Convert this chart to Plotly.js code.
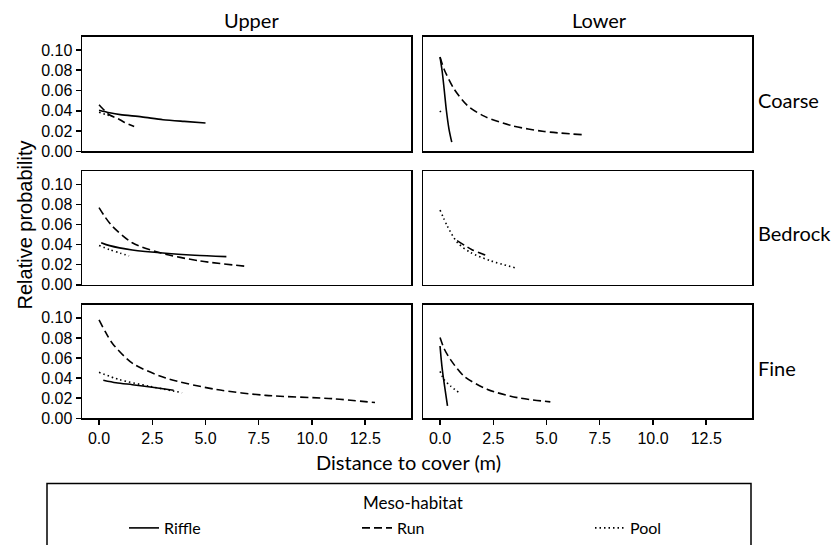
<!DOCTYPE html>
<html>
<head>
<meta charset="utf-8">
<script src="https://cdn.plot.ly/plotly-3.0.1.min.js"></script>
<style>html,body{margin:0;padding:0;background:#fff;}#chart{width:838px;height:545px;}</style>
</head>
<body>
<div id="chart"></div>
<script>
// ---- categories ----
const sections = ["Upper", "Lower"];
const substrates = ["Coarse", "Bedrock", "Fine"];
const habitats = ["Riffle", "Run", "Pool"];
const xTickVals = [0, 2.5, 5, 7.5, 10, 12.5];
const xTickText = ["0.0", "2.5", "5.0", "7.5", "10.0", "12.5"];
const yTickVals = [0, 0.02, 0.04, 0.06, 0.08, 0.10];
const yTickText = ["0.00", "0.02", "0.04", "0.06", "0.08", "0.10"];

// ---- Upper / Coarse ----
const upperCoarseRiffleX = [0, 0.5, 1.0, 2.0, 3.0, 4.0, 5.0];
const upperCoarseRiffleY = [0.0405, 0.0380, 0.0362, 0.0340, 0.0312, 0.0295, 0.0280];
const upperCoarseRunX = [0, 0.25, 0.5, 0.9, 1.2, 1.65];
const upperCoarseRunY = [0.046, 0.0405, 0.0358, 0.0322, 0.0285, 0.0245];
const upperCoarsePoolX = [0, 0.3, 0.6];
const upperCoarsePoolY = [0.0385, 0.0365, 0.0345];

// ---- Lower / Coarse ----
const lowerCoarseRiffleX = [0, 0.1, 0.2, 0.3, 0.42, 0.55];
const lowerCoarseRiffleY = [0.093, 0.079, 0.060, 0.040, 0.022, 0.009];
const lowerCoarseRunX = [0, 0.19, 0.66, 1.29, 2.07, 3.33, 4.89, 6.67];
const lowerCoarseRunY = [0.093, 0.081, 0.0615, 0.0451, 0.0347, 0.0255, 0.0196, 0.0164];
const lowerCoarsePoolX = [0, 0.1];
const lowerCoarsePoolY = [0.040, 0.036];

// ---- Upper / Bedrock ----
const upperBedrockRiffleX = [0.1, 0.5, 1.56, 3.13, 4.5, 5.98];
const upperBedrockRiffleY = [0.042, 0.039, 0.0347, 0.0314, 0.0295, 0.0281];
const upperBedrockRunX = [0, 0.3, 0.63, 1.56, 2.82, 4.69, 6.96];
const upperBedrockRunY = [0.0769, 0.067, 0.0582, 0.0419, 0.0321, 0.0239, 0.0183];
const upperBedrockPoolX = [0, 0.5, 1.0, 1.41];
const upperBedrockPoolY = [0.0392, 0.035, 0.0315, 0.0288];

// ---- Lower / Bedrock ----
const lowerBedrockRunX = [0.8, 1.5, 2.2];
const lowerBedrockRunY = [0.044, 0.035, 0.029];
const lowerBedrockPoolX = [0, 0.35, 0.82, 1.44, 2.38, 3.58];
const lowerBedrockPoolY = [0.0745, 0.0582, 0.0419, 0.0321, 0.0239, 0.0167];

// ---- Upper / Fine ----
const upperFineRiffleX = [0.2, 0.8, 1.56, 2.5, 3.5];
const upperFineRiffleY = [0.038, 0.0355, 0.0335, 0.031, 0.028];
const upperFineRunX = [0, 0.3, 0.63, 1.56, 3.13, 5.48, 7.83, 10.95, 12.96];
const upperFineRunY = [0.098, 0.086, 0.0745, 0.0549, 0.0402, 0.0288, 0.0229, 0.0196, 0.0157];
const upperFinePoolX = [0, 0.94, 2.35, 3.9];
const upperFinePoolY = [0.0458, 0.0386, 0.032, 0.0255];

// ---- Lower / Fine ----
const lowerFineRiffleX = [0, 0.05, 0.11, 0.2, 0.35];
const lowerFineRiffleY = [0.072, 0.060, 0.048, 0.034, 0.0125];
const lowerFineRunX = [0, 0.2, 0.5, 1.13, 2.23, 3.64, 5.18];
const lowerFineRunY = [0.0804, 0.069, 0.0582, 0.0419, 0.0288, 0.0206, 0.0164];
const lowerFinePoolX = [0, 0.19, 0.5, 0.94];
const lowerFinePoolY = [0.0468, 0.0386, 0.032, 0.0249];

// ---- styling ----
const W = 838, H = 545;
const px = v => v / W;
const py = v => 1 - v / H;
const dashes = { Riffle: "solid", Run: "8px,4px", Pool: "1.5px,3px" };
const colX = [[82, 411], [423, 752]];
const rowY = [[37, 153], [173, 288], [308, 423]];

function tr(x, y, hab, sec, sub, showleg) {
  const c = sections.indexOf(sec), r = substrates.indexOf(sub);
  const n = r * 2 + c + 1;
  return {
    x: x, y: y, type: "scatter", mode: "lines", name: hab,
    legendgroup: hab, showlegend: showleg,
    xaxis: n === 1 ? "x" : "x" + n, yaxis: n === 1 ? "y" : "y" + n,
    line: { color: "#000", width: 1.6, dash: dashes[hab], shape: "spline", smoothing: 0.8 },
    hoverinfo: "skip"
  };
}

const data = [
  tr(upperCoarseRiffleX, upperCoarseRiffleY, "Riffle", "Upper", "Coarse", true),
  tr(upperCoarseRunX, upperCoarseRunY, "Run", "Upper", "Coarse", true),
  tr(upperCoarsePoolX, upperCoarsePoolY, "Pool", "Upper", "Coarse", true),
  tr(lowerCoarseRiffleX, lowerCoarseRiffleY, "Riffle", "Lower", "Coarse", false),
  tr(lowerCoarseRunX, lowerCoarseRunY, "Run", "Lower", "Coarse", false),
  tr(lowerCoarsePoolX, lowerCoarsePoolY, "Pool", "Lower", "Coarse", false),
  tr(upperBedrockRiffleX, upperBedrockRiffleY, "Riffle", "Upper", "Bedrock", false),
  tr(upperBedrockRunX, upperBedrockRunY, "Run", "Upper", "Bedrock", false),
  tr(upperBedrockPoolX, upperBedrockPoolY, "Pool", "Upper", "Bedrock", false),
  tr(lowerBedrockRunX, lowerBedrockRunY, "Run", "Lower", "Bedrock", false),
  tr(lowerBedrockPoolX, lowerBedrockPoolY, "Pool", "Lower", "Bedrock", false),
  tr(upperFineRiffleX, upperFineRiffleY, "Riffle", "Upper", "Fine", false),
  tr(upperFineRunX, upperFineRunY, "Run", "Upper", "Fine", false),
  tr(upperFinePoolX, upperFinePoolY, "Pool", "Upper", "Fine", false),
  tr(lowerFineRiffleX, lowerFineRiffleY, "Riffle", "Lower", "Fine", false),
  tr(lowerFineRunX, lowerFineRunY, "Run", "Lower", "Fine", false),
  tr(lowerFinePoolX, lowerFinePoolY, "Pool", "Lower", "Fine", false)
];

const sansFam = "Liberation Sans";
const tickFont = { family: sansFam, size: 16, color: "#000" };
const labFont = { family: "Lato", size: 20, color: "#000" };

const layout = {
  width: W, height: H,
  margin: { l: 0, r: 0, t: 0, b: 0 },
  paper_bgcolor: "#fff", plot_bgcolor: "#fff",
  showlegend: true,
  legend: {
    orientation: "h", x: px(124), xanchor: "left", y: py(517), yanchor: "top",
    entrywidth: 188, entrywidthmode: "pixels",
    font: { family: "Lato", size: 16, color: "#000" },
    bgcolor: "rgba(0,0,0,0)", traceorder: "normal"
  },
  annotations: [],
  shapes: [{
    type: "rect", xref: "paper", yref: "paper",
    x0: px(47), x1: px(751), y0: py(489), y1: -0.1,
    line: { color: "#000", width: 1.5 }, fillcolor: "rgba(0,0,0,0)"
  }]
};

for (let r = 0; r < 3; r++) {
  for (let c = 0; c < 2; c++) {
    const n = r * 2 + c + 1;
    const xa = n === 1 ? "xaxis" : "xaxis" + n;
    const ya = n === 1 ? "yaxis" : "yaxis" + n;
    const bottom = r === 2, left = c === 0;
    layout[xa] = {
      domain: [px(colX[c][0]), px(colX[c][1])],
      anchor: n === 1 ? "y" : "y" + n,
      range: [-0.8, 14.65], showgrid: false, zeroline: false,
      showline: true, mirror: true, linecolor: "#000", linewidth: 1.5,
      ticks: bottom ? "outside" : "", ticklen: 5, tickwidth: 1.5, tickcolor: "#000",
      tickvals: xTickVals, ticktext: xTickText, showticklabels: bottom,
      tickfont: tickFont, fixedrange: true
    };
    layout[ya] = {
      domain: [py(rowY[r][1]), py(rowY[r][0])],
      anchor: n === 1 ? "x" : "x" + n,
      range: [0, 0.1132], showgrid: false, zeroline: false,
      showline: true, mirror: true, linecolor: "#000", linewidth: 1.5,
      ticks: left ? "outside" : "", ticklen: 5, tickwidth: 1.5, tickcolor: "#000",
      tickvals: yTickVals, ticktext: yTickText, showticklabels: left,
      tickfont: tickFont, fixedrange: true
    };
  }
}

// strip labels
const stripX = [251, 599];
sections.forEach((s, i) => layout.annotations.push({
  text: s, xref: "paper", yref: "paper", x: px(stripX[i]), y: py(20),
  xanchor: "center", yanchor: "middle", showarrow: false, font: labFont
}));
const rowLabY = [101, 236, 372];
substrates.forEach((s, i) => layout.annotations.push({
  text: s, xref: "paper", yref: "paper", x: px(756), y: py(rowLabY[i]),
  xanchor: "left", yanchor: "middle", showarrow: false, font: labFont
}));
// axis titles
layout.annotations.push({
  text: "Relative probability", xref: "paper", yref: "paper", x: px(25), y: py(228),
  xanchor: "center", yanchor: "middle", textangle: -90, showarrow: false,
  font: { family: sansFam, size: 20, color: "#000" }
});
layout.annotations.push({
  text: "Distance to cover (m)", xref: "paper", yref: "paper", x: px(408), y: py(467),
  xanchor: "center", yanchor: "middle", showarrow: false, font: labFont
});
layout.annotations.push({
  text: "Meso-habitat", xref: "paper", yref: "paper", x: px(413), y: py(508),
  xanchor: "center", yanchor: "middle", showarrow: false,
  font: { family: "Lato", size: 17, color: "#000" }
});

Plotly.newPlot("chart", data, layout, { displayModeBar: false, staticPlot: true });
</script>
</body>
</html>
